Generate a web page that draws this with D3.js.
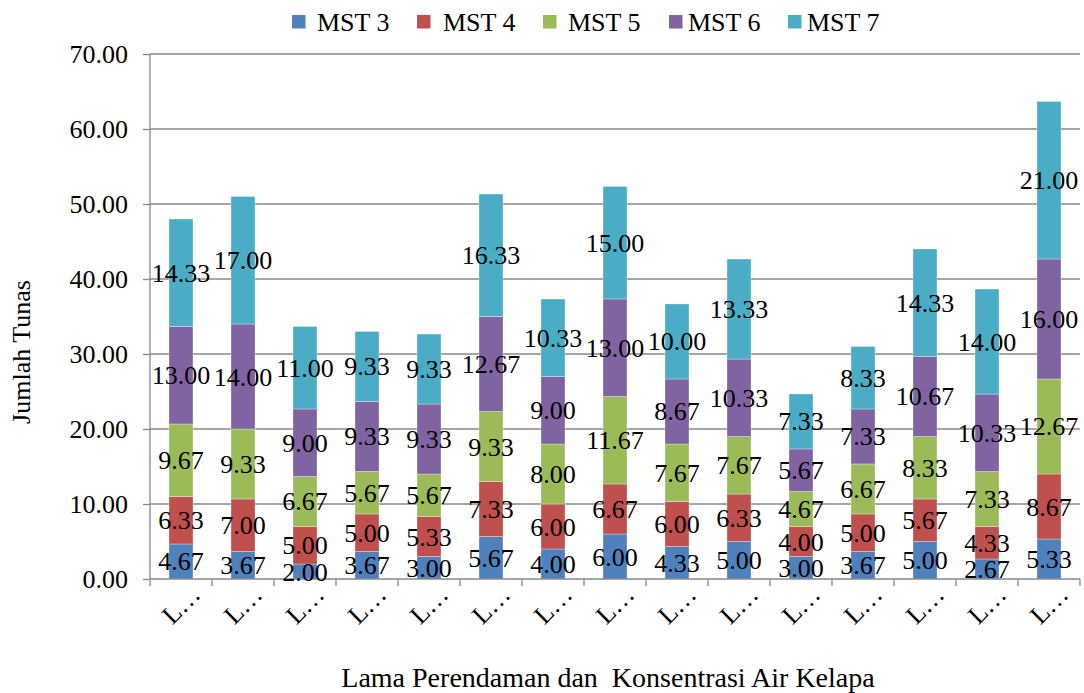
<!DOCTYPE html>
<html><head><meta charset="utf-8">
<script src="https://cdn.jsdelivr.net/npm/d3@7"></script>
<style>body{margin:0;background:#fff}svg{display:block}</style>
</head><body><svg id="c" width="1084" height="693"></svg>
<script>
const categories = ["L…","L…","L…","L…","L…","L…","L…","L…","L…","L…","L…","L…","L…","L…","L…"];
const seriesNames = ["MST 3","MST 4","MST 5","MST 6","MST 7"];
const mst3 = [4.67,3.67,2.00,3.67,3.00,5.67,4.00,6.00,4.33,5.00,3.00,3.67,5.00,2.67,5.33];
const mst4 = [6.33,7.00,5.00,5.00,5.33,7.33,6.00,6.67,6.00,6.33,4.00,5.00,5.67,4.33,8.67];
const mst5 = [9.67,9.33,6.67,5.67,5.67,9.33,8.00,11.67,7.67,7.67,4.67,6.67,8.33,7.33,12.67];
const mst6 = [13.00,14.00,9.00,9.33,9.33,12.67,9.00,13.00,8.67,10.33,5.67,7.33,10.67,10.33,16.00];
const mst7 = [14.33,17.00,11.00,9.33,9.33,16.33,10.33,15.00,10.00,13.33,7.33,8.33,14.33,14.00,21.00];
const yTicks = [0,10,20,30,40,50,60,70];
const colors = ["#4F81BD","#C0504D","#9BBB59","#8064A2","#4BACC6"];

const FONT = '"Liberation Serif", "Times New Roman", Tinos, Times, "DejaVu Serif", serif';
const FS = 26;
const seriesVals = [mst3,mst4,mst5,mst6,mst7];
const rows = categories.map((c,i)=>{const r={idx:i}; seriesNames.forEach((s,j)=>r[s]=seriesVals[j][i]); return r;});
const stacked = d3.stack().keys(seriesNames)(rows);

const svg = d3.select("#c");
const L=150,R=1080,T=54,B=579;
const x = d3.scaleBand().domain(d3.range(categories.length)).range([L,R]).paddingInner(0).paddingOuter(0);
const y = d3.scaleLinear().domain([0,70]).range([B,T]);
const gridC="#888888";

svg.append("g").selectAll("line").data(yTicks.filter(d=>d>0)).join("line")
  .attr("x1",L).attr("x2",R).attr("y1",d=>y(d)).attr("y2",d=>y(d))
  .attr("stroke",gridC).attr("stroke-width",1.3);

const bw = 24;
const g = svg.append("g");
stacked.forEach((s,j)=>{
  g.append("g").selectAll("rect").data(s).join("rect")
    .attr("x",(d,i)=>x(i)+x.bandwidth()/2-bw/2)
    .attr("width",bw)
    .attr("y",d=>y(d[1]))
    .attr("height",d=>y(d[0])-y(d[1]))
    .attr("fill",colors[j])
    .attr("stroke","#ffffff").attr("stroke-opacity",0.5).attr("stroke-width",0.6);
});

const ya = svg.append("g").attr("transform",`translate(${L},0)`)
  .call(d3.axisLeft(y).tickValues(yTicks).tickFormat(d3.format(".2f")).tickSize(7).tickPadding(15));
ya.select(".domain").attr("stroke",gridC).attr("stroke-width",1.3).attr("d",`M-0,${B}V${T}`);
ya.selectAll(".tick line").attr("stroke",gridC).attr("stroke-width",1.3);
ya.selectAll(".tick text").attr("font-size",FS).attr("dy","0.34em");

const xa = svg.append("g").attr("transform",`translate(0,${B})`);
xa.append("line").attr("x1",L).attr("x2",R).attr("y1",0).attr("y2",0).attr("stroke",gridC).attr("stroke-width",1.3);
xa.selectAll("line.t").data(d3.range(categories.length+1)).join("line").attr("class","t")
  .attr("x1",i=>i<categories.length?x(i):R).attr("x2",i=>i<categories.length?x(i):R)
  .attr("y1",0).attr("y2",7).attr("stroke",gridC).attr("stroke-width",1.3);
xa.selectAll("text").data(categories).join("text")
  .attr("text-anchor","end")
  .attr("font-size",FS)
  .attr("transform",(d,i)=>`translate(${x(i)+x.bandwidth()/2+21},${17}) rotate(-45)`)
  .text(d=>d);

stacked.forEach((s,j)=>{
  svg.append("g").selectAll("text").data(s).join("text")
    .attr("x",(d,i)=>x(i)+x.bandwidth()/2)
    .attr("y",d=>(y(d[0])+y(d[1]))/2+9)
    .attr("text-anchor","middle").attr("font-size",FS)
    .text(d=>(d[1]-d[0]).toFixed(2));
});

svg.append("text").attr("transform","translate(30,352) rotate(-90)").attr("text-anchor","middle").attr("font-size",FS).text("Jumlah Tunas");
svg.append("text").attr("x",608).attr("y",687).attr("text-anchor","middle").attr("font-size",28).style("white-space","pre").text("Lama Perendaman dan  Konsentrasi Air Kelapa");

const legSq=[292,417,543,669,788];
const legTx=[317,443,568,688,807];
const lg = svg.append("g");
seriesNames.forEach((s,j)=>{
  lg.append("rect").attr("x",legSq[j]).attr("y",15).attr("width",13.5).attr("height",13.5).attr("fill",colors[j]);
  lg.append("text").attr("x",legTx[j]).attr("y",31).attr("font-size",FS).text(s);
});

svg.selectAll("text").attr("font-family",null).style("font-family",FONT).style("fill","#000");
</script></body></html>
